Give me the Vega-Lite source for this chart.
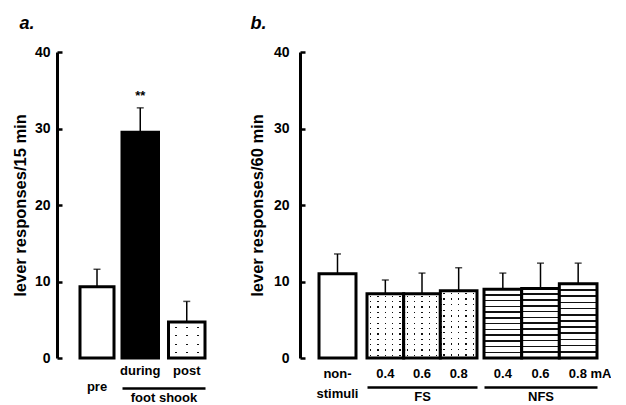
{
  "$schema": "https://vega.github.io/schema/vega-lite/v6.json",
  "background": "white",
  "padding": {"left": 12, "top": 15, "right": 0, "bottom": 0},
  "config": {
    "view": {"stroke": null},
    "font": "Liberation Sans",
    "axis": {"grid": false, "labelFont": "Liberation Sans", "titleFont": "Liberation Sans", "labelFontWeight": "bold", "titleFontWeight": "bold", "labelColor": "black", "titleColor": "black", "domainColor": "black", "tickColor": "black"}
  },
  "datasets": {
    "a": [
      {"cond": "pre", "value": 9.3, "upper": 11.6, "sig": ""},
      {"cond": "during", "value": 29.5, "upper": 32.7, "sig": "**"},
      {"cond": "post", "value": 4.7, "upper": 7.4, "sig": ""}
    ],
    "b": [
      {"group": "non", "cond": "non-stimuli", "value": 11.0, "upper": 13.6},
      {"group": "FS", "cond": "0.4", "value": 8.4, "upper": 10.2},
      {"group": "FS", "cond": "0.6", "value": 8.4, "upper": 11.1},
      {"group": "FS", "cond": "0.8", "value": 8.8, "upper": 11.8},
      {"group": "NFS", "cond": "0.4", "value": 9.0, "upper": 11.1},
      {"group": "NFS", "cond": "0.6", "value": 9.1, "upper": 12.4},
      {"group": "NFS", "cond": "0.8", "value": 9.7, "upper": 12.4}
    ]
  },
  "spacing": 42,
  "hconcat": [
    {
      "title": {"text": "a.", "anchor": "start", "fontSize": 18, "fontStyle": "italic", "fontWeight": "bold", "font": "Liberation Sans", "offset": 12, "dx": 7, "color": "black"},
      "bounds": "flush",
      "spacing": 5,
      "hconcat": [
        {
          "width": 60, "height": 306,
          "data": {"name": "a"},
          "transform": [{"filter": "datum.cond == 'pre'"}],
          "encoding": {
            "x": {"field": "cond", "type": "nominal", "scale": {"domain": ["pre"], "paddingInner": 0, "paddingOuter": 0.382, "align": 0.885}, "axis": {"title": null, "domain": false, "ticks": false, "labelAngle": 0, "labelFontSize": 13, "labelPadding": 22}}
          },
          "layer": [
            {"mark": {"type": "rule", "color": "black", "strokeWidth": 1.5}, "encoding": {"y": {"field": "value", "type": "quantitative", "scale": {"domain": [0, 40], "nice": false}, "axis": {"values": [0, 10, 20, 30, 40], "title": "lever responses/15 min", "titleFontSize": 16.5, "titlePadding": 6, "labelFontSize": 14, "tickSize": -5, "tickWidth": 2.5, "domainWidth": 3, "labelPadding": 12}}, "y2": {"field": "upper"}}},
            {"mark": {"type": "tick", "color": "black", "size": 7, "thickness": 1.5}, "encoding": {"y": {"field": "upper", "type": "quantitative", "axis": {"values": [0, 10, 20, 30, 40], "title": "lever responses/15 min", "titleFontSize": 16.5, "titlePadding": 6, "labelFontSize": 14, "tickSize": -5, "tickWidth": 2.5, "domainWidth": 3, "labelPadding": 12}}}},
            {"mark": {"type": "bar", "fill": "white", "stroke": "black", "strokeWidth": 3}, "encoding": {"y": {"field": "value", "type": "quantitative", "axis": {"values": [0, 10, 20, 30, 40], "title": "lever responses/15 min", "titleFontSize": 16.5, "titlePadding": 6, "labelFontSize": 14, "tickSize": -5, "tickWidth": 2.5, "domainWidth": 3, "labelPadding": 12}}}}
          ]
        },
        {
          "width": 83, "height": 306,
          "data": {"name": "a"},
          "transform": [{"filter": "datum.cond != 'pre'"}],
          "resolve": {"axis": {"x": "independent"}},
          "encoding": {
            "x": {"field": "cond", "type": "nominal", "scale": {"domain": ["during", "post"], "paddingInner": 0.215, "paddingOuter": 0}, "axis": null},
            "y": {"field": "value", "type": "quantitative", "scale": {"domain": [0, 40], "nice": false}, "axis": null}
          },
          "layer": [
            {"mark": {"type": "rule", "color": "black", "strokeWidth": 1.5}, "encoding": {"y2": {"field": "upper"}, "x": {"field": "cond", "type": "nominal", "axis": {"orient": "bottom", "offset": 30, "domain": true, "domainWidth": 2.5, "labels": false, "ticks": false, "title": "foot shook", "titleFontSize": 13, "titlePadding": 3}}}},
            {"mark": {"type": "tick", "color": "black", "size": 7, "thickness": 1.5}, "encoding": {"y": {"field": "upper", "type": "quantitative", "axis": null}}},
            {"transform": [{"filter": "datum.cond == 'during'"}], "mark": {"type": "bar", "fill": "black", "stroke": "black", "strokeWidth": 3}, "encoding": {"x": {"field": "cond", "type": "nominal", "axis": {"orient": "bottom", "title": null, "domain": false, "ticks": false, "labelAngle": 0, "labelFontSize": 13, "labelPadding": 6}}}},
            {"transform": [{"filter": "datum.cond == 'post'"}], "mark": {"type": "bar", "strokeWidth": 0, "fill": {"gradient": "linear", "x1": 0, "y1": 0, "x2": 1, "y2": 0, "stops": [
              {"offset": 0, "color": "white"},
              {"offset": 0.178, "color": "white"}, {"offset": 0.178, "color": "#111"}, {"offset": 0.222, "color": "#111"}, {"offset": 0.222, "color": "white"},
              {"offset": 0.478, "color": "white"}, {"offset": 0.478, "color": "#111"}, {"offset": 0.522, "color": "#111"}, {"offset": 0.522, "color": "white"},
              {"offset": 0.778, "color": "white"}, {"offset": 0.778, "color": "#111"}, {"offset": 0.822, "color": "#111"}, {"offset": 0.822, "color": "white"},
              {"offset": 1, "color": "white"}]}}},
            {"transform": [{"filter": "datum.cond == 'post'"}], "mark": {"type": "bar", "stroke": "black", "strokeWidth": 3, "fill": {"gradient": "linear", "x1": 0, "y1": 0, "x2": 0, "y2": 1, "stops": [
              {"offset": 0, "color": "white"},
              {"offset": 0.128, "color": "white"}, {"offset": 0.128, "color": "rgba(255,255,255,0)"}, {"offset": 0.172, "color": "rgba(255,255,255,0)"}, {"offset": 0.172, "color": "white"},
              {"offset": 0.358, "color": "white"}, {"offset": 0.358, "color": "rgba(255,255,255,0)"}, {"offset": 0.402, "color": "rgba(255,255,255,0)"}, {"offset": 0.402, "color": "white"},
              {"offset": 0.598, "color": "white"}, {"offset": 0.598, "color": "rgba(255,255,255,0)"}, {"offset": 0.642, "color": "rgba(255,255,255,0)"}, {"offset": 0.642, "color": "white"},
              {"offset": 0.828, "color": "white"}, {"offset": 0.828, "color": "rgba(255,255,255,0)"}, {"offset": 0.872, "color": "rgba(255,255,255,0)"}, {"offset": 0.872, "color": "white"},
              {"offset": 1, "color": "white"}]}}},
            {"transform": [{"filter": "datum.sig != ''"}], "mark": {"type": "text", "fontSize": 13, "fontWeight": "bold", "font": "Liberation Sans", "dy": -12, "baseline": "middle", "color": "black"}, "encoding": {"y": {"field": "upper", "type": "quantitative", "axis": null}, "text": {"field": "sig"}}}
          ]
        }
      ]
    },
    {
      "title": {"text": "b.", "anchor": "start", "fontSize": 18, "fontStyle": "italic", "fontWeight": "bold", "font": "Liberation Sans", "offset": 12, "dx": 1, "color": "black"},
      "bounds": "flush",
      "spacing": 7,
      "hconcat": [
        {
          "width": 60, "height": 306,
          "data": {"name": "b"},
          "transform": [{"filter": "datum.group == 'non'"}],
          "encoding": {
            "x": {"field": "cond", "type": "nominal", "scale": {"domain": ["non-stimuli"], "paddingInner": 0, "paddingOuter": 0.311, "align": 0.826}, "axis": {"title": null, "domain": false, "ticks": false, "labelAngle": 0, "labelFontSize": 13, "labelPadding": 9, "labelLineHeight": 20, "labelExpr": "datum.label == 'non-stimuli' ? ['non-', 'stimuli'] : datum.label"}}
          },
          "layer": [
            {"mark": {"type": "rule", "color": "black", "strokeWidth": 1.5}, "encoding": {"y": {"field": "value", "type": "quantitative", "scale": {"domain": [0, 40], "nice": false}, "axis": {"values": [0, 10, 20, 30, 40], "title": "lever responses/60 min", "titleFontSize": 16.5, "titlePadding": 8, "labelFontSize": 14, "tickSize": -5, "tickWidth": 2.5, "domainWidth": 3, "labelPadding": 16}}, "y2": {"field": "upper"}}},
            {"mark": {"type": "tick", "color": "black", "size": 7, "thickness": 1.5}, "encoding": {"y": {"field": "upper", "type": "quantitative", "axis": {"values": [0, 10, 20, 30, 40], "title": "lever responses/60 min", "titleFontSize": 16.5, "titlePadding": 8, "labelFontSize": 14, "tickSize": -5, "tickWidth": 2.5, "domainWidth": 3, "labelPadding": 16}}}},
            {"mark": {"type": "bar", "fill": "white", "stroke": "black", "strokeWidth": 3}, "encoding": {"y": {"field": "value", "type": "quantitative", "axis": {"values": [0, 10, 20, 30, 40], "title": "lever responses/60 min", "titleFontSize": 16.5, "titlePadding": 8, "labelFontSize": 14, "tickSize": -5, "tickWidth": 2.5, "domainWidth": 3, "labelPadding": 16}}}}
          ]
        },
        {
          "width": 110, "height": 306,
          "data": {"name": "b"},
          "transform": [{"filter": "datum.group == 'FS'"}],
          "resolve": {"axis": {"x": "independent"}},
          "encoding": {
            "x": {"field": "cond", "type": "nominal", "scale": {"domain": ["0.4", "0.6", "0.8"], "paddingInner": 0, "paddingOuter": 0}, "axis": null},
            "y": {"field": "value", "type": "quantitative", "scale": {"domain": [0, 40], "nice": false}, "axis": null}
          },
          "layer": [
            {"mark": {"type": "rule", "color": "black", "strokeWidth": 1.5}, "encoding": {"y2": {"field": "upper"}, "x": {"field": "cond", "type": "nominal", "axis": {"orient": "bottom", "offset": 29, "domain": true, "domainWidth": 2.5, "labels": false, "ticks": false, "title": "FS", "titleFontSize": 13, "titlePadding": 3}}}},
            {"mark": {"type": "tick", "color": "black", "size": 7, "thickness": 1.5}, "encoding": {"y": {"field": "upper", "type": "quantitative", "axis": null}}},
            {"mark": {"type": "bar", "strokeWidth": 0, "fill": {"gradient": "linear", "x1": 0, "y1": 0, "x2": 1, "y2": 0, "stops": [
              {"offset": 0, "color": "white"},
              {"offset": 0.08, "color": "white"}, {"offset": 0.08, "color": "#111"}, {"offset": 0.12, "color": "#111"}, {"offset": 0.12, "color": "white"},
              {"offset": 0.28, "color": "white"}, {"offset": 0.28, "color": "#111"}, {"offset": 0.32, "color": "#111"}, {"offset": 0.32, "color": "white"},
              {"offset": 0.48, "color": "white"}, {"offset": 0.48, "color": "#111"}, {"offset": 0.52, "color": "#111"}, {"offset": 0.52, "color": "white"},
              {"offset": 0.68, "color": "white"}, {"offset": 0.68, "color": "#111"}, {"offset": 0.72, "color": "#111"}, {"offset": 0.72, "color": "white"},
              {"offset": 0.88, "color": "white"}, {"offset": 0.88, "color": "#111"}, {"offset": 0.92, "color": "#111"}, {"offset": 0.92, "color": "white"},
              {"offset": 1, "color": "white"}]}}},
            {"mark": {"type": "bar", "stroke": "black", "strokeWidth": 3, "fill": {"gradient": "linear", "x1": 0, "y1": 0, "x2": 0, "y2": 1, "stops": [
              {"offset": 0, "color": "white"},
              {"offset": 0.032, "color": "white"}, {"offset": 0.032, "color": "rgba(255,255,255,0)"}, {"offset": 0.052, "color": "rgba(255,255,255,0)"}, {"offset": 0.052, "color": "white"},
              {"offset": 0.115, "color": "white"}, {"offset": 0.115, "color": "rgba(255,255,255,0)"}, {"offset": 0.135, "color": "rgba(255,255,255,0)"}, {"offset": 0.135, "color": "white"},
              {"offset": 0.198, "color": "white"}, {"offset": 0.198, "color": "rgba(255,255,255,0)"}, {"offset": 0.218, "color": "rgba(255,255,255,0)"}, {"offset": 0.218, "color": "white"},
              {"offset": 0.282, "color": "white"}, {"offset": 0.282, "color": "rgba(255,255,255,0)"}, {"offset": 0.302, "color": "rgba(255,255,255,0)"}, {"offset": 0.302, "color": "white"},
              {"offset": 0.365, "color": "white"}, {"offset": 0.365, "color": "rgba(255,255,255,0)"}, {"offset": 0.385, "color": "rgba(255,255,255,0)"}, {"offset": 0.385, "color": "white"},
              {"offset": 0.448, "color": "white"}, {"offset": 0.448, "color": "rgba(255,255,255,0)"}, {"offset": 0.468, "color": "rgba(255,255,255,0)"}, {"offset": 0.468, "color": "white"},
              {"offset": 0.532, "color": "white"}, {"offset": 0.532, "color": "rgba(255,255,255,0)"}, {"offset": 0.552, "color": "rgba(255,255,255,0)"}, {"offset": 0.552, "color": "white"},
              {"offset": 0.615, "color": "white"}, {"offset": 0.615, "color": "rgba(255,255,255,0)"}, {"offset": 0.635, "color": "rgba(255,255,255,0)"}, {"offset": 0.635, "color": "white"},
              {"offset": 0.698, "color": "white"}, {"offset": 0.698, "color": "rgba(255,255,255,0)"}, {"offset": 0.718, "color": "rgba(255,255,255,0)"}, {"offset": 0.718, "color": "white"},
              {"offset": 0.782, "color": "white"}, {"offset": 0.782, "color": "rgba(255,255,255,0)"}, {"offset": 0.802, "color": "rgba(255,255,255,0)"}, {"offset": 0.802, "color": "white"},
              {"offset": 0.865, "color": "white"}, {"offset": 0.865, "color": "rgba(255,255,255,0)"}, {"offset": 0.885, "color": "rgba(255,255,255,0)"}, {"offset": 0.885, "color": "white"},
              {"offset": 0.948, "color": "white"}, {"offset": 0.948, "color": "rgba(255,255,255,0)"}, {"offset": 0.968, "color": "rgba(255,255,255,0)"}, {"offset": 0.968, "color": "white"},
              {"offset": 1, "color": "white"}]}},
             "encoding": {"x": {"field": "cond", "type": "nominal", "axis": {"orient": "bottom", "title": null, "domain": false, "ticks": false, "labelAngle": 0, "labelFontSize": 13, "labelPadding": 9}}}}
          ]
        },
        {
          "width": 113, "height": 306,
          "data": {"name": "b"},
          "transform": [{"filter": "datum.group == 'NFS'"}],
          "resolve": {"axis": {"x": "independent"}},
          "encoding": {
            "x": {"field": "cond", "type": "nominal", "scale": {"domain": ["0.4", "0.6", "0.8"], "paddingInner": 0, "paddingOuter": 0}, "axis": null},
            "y": {"field": "value", "type": "quantitative", "scale": {"domain": [0, 40], "nice": false}, "axis": null}
          },
          "layer": [
            {"mark": {"type": "rule", "color": "black", "strokeWidth": 1.5}, "encoding": {"y2": {"field": "upper"}, "x": {"field": "cond", "type": "nominal", "axis": {"orient": "bottom", "offset": 29, "domain": true, "domainWidth": 2.5, "labels": false, "ticks": false, "title": "NFS", "titleFontSize": 13, "titlePadding": 3}}}},
            {"mark": {"type": "tick", "color": "black", "size": 7, "thickness": 1.5}, "encoding": {"y": {"field": "upper", "type": "quantitative", "axis": null}}},
            {"mark": {"type": "bar", "stroke": "black", "strokeWidth": 3, "fill": {"gradient": "linear", "x1": 0, "y1": 0, "x2": 0, "y2": 1, "stops": [
              {"offset": 0, "color": "white"},
              {"offset": 0.072, "color": "white"}, {"offset": 0.072, "color": "#111"}, {"offset": 0.094, "color": "#111"}, {"offset": 0.094, "color": "white"},
              {"offset": 0.156, "color": "white"}, {"offset": 0.156, "color": "#111"}, {"offset": 0.178, "color": "#111"}, {"offset": 0.178, "color": "white"},
              {"offset": 0.239, "color": "white"}, {"offset": 0.239, "color": "#111"}, {"offset": 0.261, "color": "#111"}, {"offset": 0.261, "color": "white"},
              {"offset": 0.322, "color": "white"}, {"offset": 0.322, "color": "#111"}, {"offset": 0.344, "color": "#111"}, {"offset": 0.344, "color": "white"},
              {"offset": 0.406, "color": "white"}, {"offset": 0.406, "color": "#111"}, {"offset": 0.428, "color": "#111"}, {"offset": 0.428, "color": "white"},
              {"offset": 0.489, "color": "white"}, {"offset": 0.489, "color": "#111"}, {"offset": 0.511, "color": "#111"}, {"offset": 0.511, "color": "white"},
              {"offset": 0.572, "color": "white"}, {"offset": 0.572, "color": "#111"}, {"offset": 0.594, "color": "#111"}, {"offset": 0.594, "color": "white"},
              {"offset": 0.656, "color": "white"}, {"offset": 0.656, "color": "#111"}, {"offset": 0.678, "color": "#111"}, {"offset": 0.678, "color": "white"},
              {"offset": 0.739, "color": "white"}, {"offset": 0.739, "color": "#111"}, {"offset": 0.761, "color": "#111"}, {"offset": 0.761, "color": "white"},
              {"offset": 0.822, "color": "white"}, {"offset": 0.822, "color": "#111"}, {"offset": 0.844, "color": "#111"}, {"offset": 0.844, "color": "white"},
              {"offset": 0.906, "color": "white"}, {"offset": 0.906, "color": "#111"}, {"offset": 0.928, "color": "#111"}, {"offset": 0.928, "color": "white"},
              {"offset": 1, "color": "white"}]}},
             "encoding": {"x": {"field": "cond", "type": "nominal", "axis": {"orient": "bottom", "title": null, "domain": false, "ticks": false, "labelAngle": 0, "labelFontSize": 13, "labelPadding": 9, "labelExpr": "datum.label == '0.8' ? '0.8 mA' : datum.label", "labelOffset": {"condition": {"test": "datum.value == '0.8'", "value": 12}, "value": 0}}}}}
          ]
        }
      ]
    }
  ]
}
